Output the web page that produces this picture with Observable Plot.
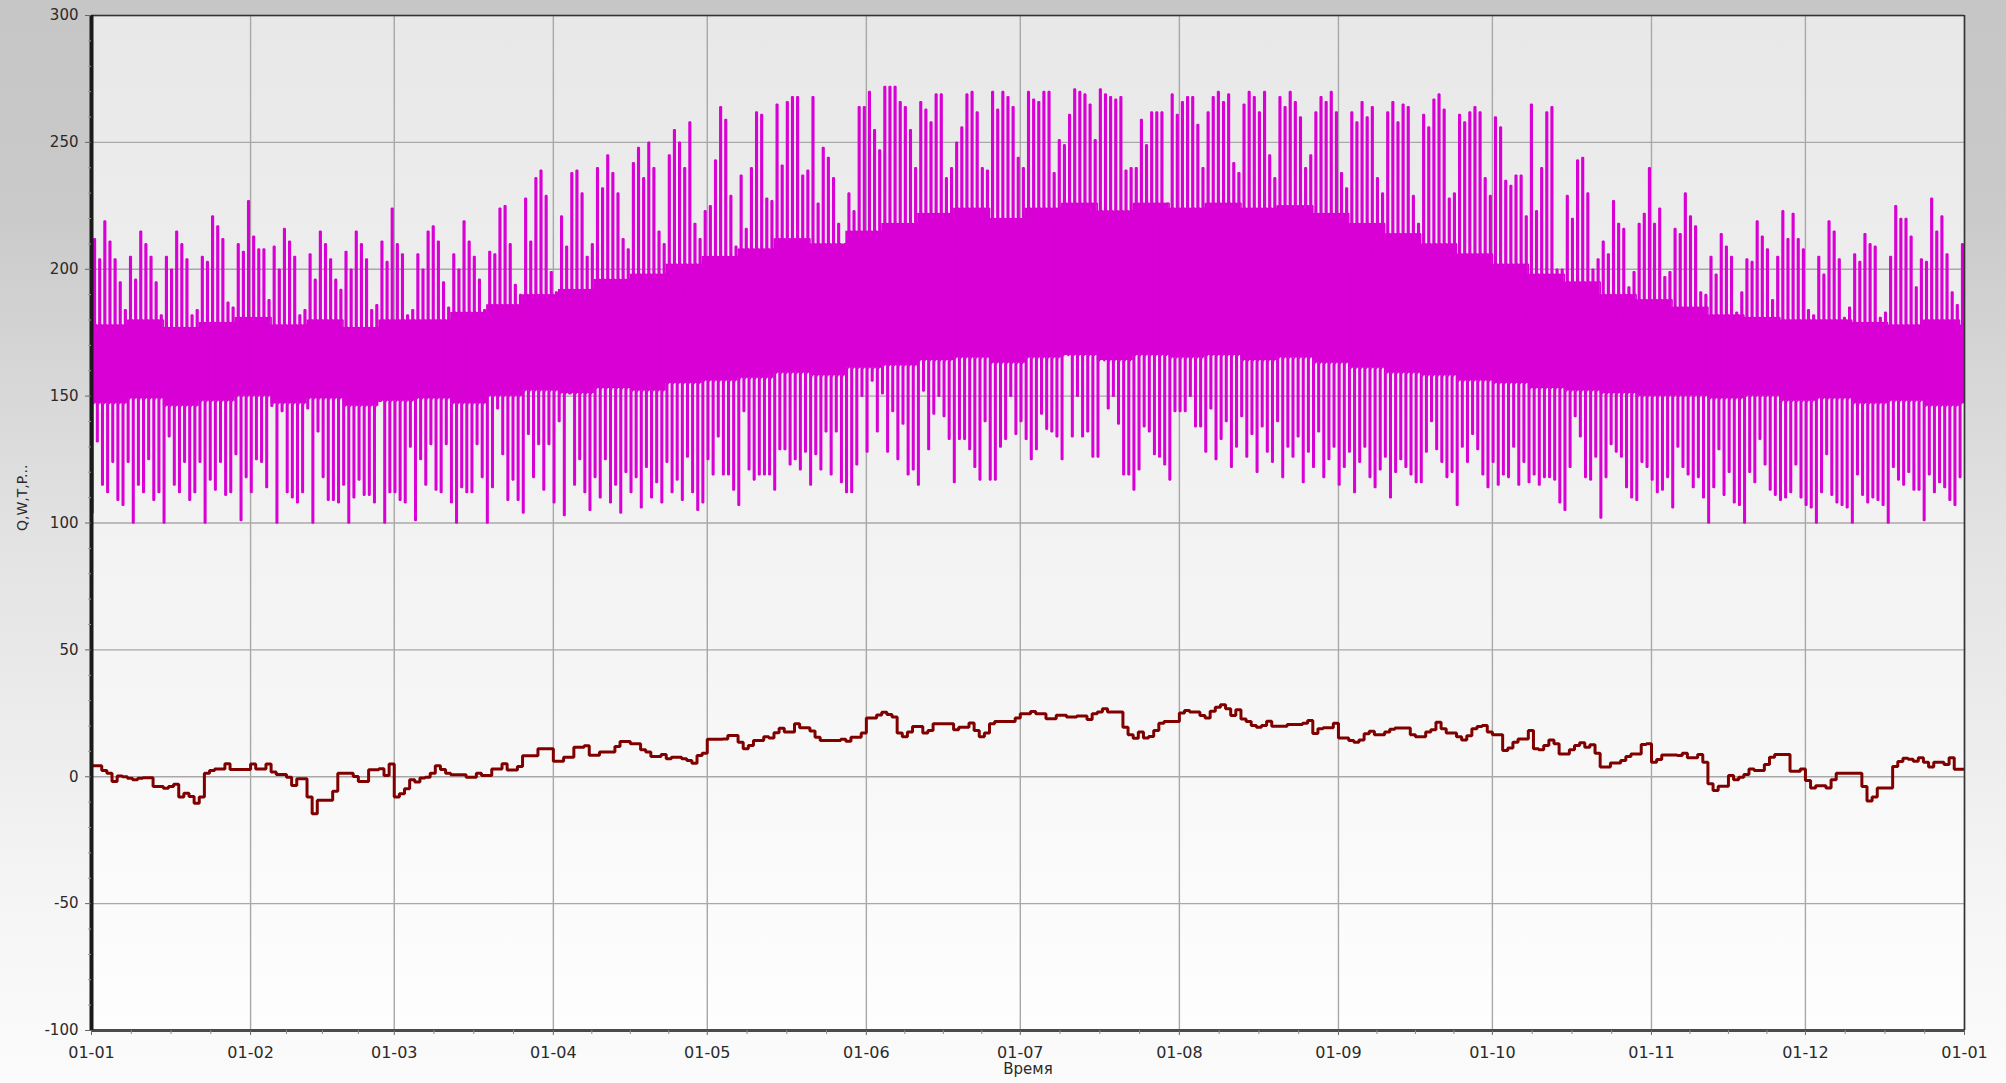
<!DOCTYPE html>
<html><head><meta charset="utf-8">
<script src="https://cdn.jsdelivr.net/npm/d3@7"></script>
<script src="https://cdn.jsdelivr.net/npm/@observablehq/plot@0.6"></script>
<style>
html,body{margin:0;padding:0;background:#fff;}
#chart{width:2006px;height:1083px;overflow:hidden;}
</style></head><body><div id="chart"></div>
<script>
// ---- data ----
const yTicks = [-100, -50, 0, 50, 100, 150, 200, 250, 300];
const xTickLabels = ["01-01","01-02","01-03","01-04","01-05","01-06","01-07","01-08","01-09","01-10","01-11","01-12","01-01"];
const yLabel = "Q,W,T,P...";
const xLabel = "Время";

// weekly typical (dense) band of the load series, one value per 7-day block from 01-01
const coreLoW = [147,149,146,148,150, 147,149,146,148, 149,147,150,152, 151,153,152,155,156,
  157,159,158,161, 162,164,165,163, 165,166,164,166,165, 166,164,165,163, 161,159,158,156,
  155,153,152,151,150, 150,149,150,148, 149,147,148,146,147];
const coreHiW = [178,180,177,179,181, 178,180,177,180, 180,183,186,190, 192,196,198,202,205,
  208,212,210,215, 218,222,224,220, 224,226,223,226,224, 226,224,225,222, 218,214,210,206,
  202,198,195,190,188, 185,182,181,180, 180,179,178,180,178];

// daily peak of the load series
const loadMax = [
212,204,219,211,204,195,184,205,196,215,
210,205,195,182,205,200,215,210,204,182,
184,205,203,221,217,212,187,185,210,207,
227,213,208,208,188,209,200,216,211,205,
182,184,206,196,215,210,204,196,192,207,
200,215,210,204,184,186,211,203,224,210,
206,182,184,206,200,215,217,211,195,185,
206,200,219,211,205,196,184,207,206,224,
225,210,194,190,228,211,236,239,229,199,
191,221,209,238,239,230,205,210,240,232,
245,238,230,212,208,242,248,236,250,240,
215,210,245,255,250,240,258,218,212,223,
225,243,264,259,229,209,237,216,240,262,
261,228,227,265,241,266,268,268,237,239,
268,226,248,244,236,218,207,230,223,264,
264,270,255,247,272,272,272,266,264,255,
240,266,263,258,269,269,236,240,250,256,
269,270,262,240,239,270,263,270,268,264,
244,240,270,267,266,270,270,238,251,249,
261,271,270,269,265,251,271,269,268,267,
268,239,240,240,259,249,262,262,262,226,
269,261,266,268,268,257,240,262,268,270,
266,269,242,238,265,270,268,262,270,245,
236,268,264,270,266,260,240,245,262,268,
266,270,262,238,232,262,258,266,260,264,
236,230,262,266,258,265,264,229,218,261,
256,267,269,263,228,230,261,258,262,264,
262,236,229,260,256,235,233,237,237,221,
265,223,240,262,264,200,200,229,220,243,
244,230,200,204,211,206,227,218,216,193,
199,218,222,240,218,224,197,199,216,214,
230,221,217,191,190,205,198,214,209,205,
183,191,204,203,219,213,208,188,205,223,
212,222,212,208,184,182,205,198,219,215,
204,181,185,206,203,214,210,209,181,183,
205,225,220,220,213,193,204,203,228,215,
221,206,191,186,210];

// daily trough of the load series
const loadMin = [
104,132,115,112,124,109,107,124,100,115,
112,125,109,112,100,134,115,112,124,109,
112,124,100,117,113,124,111,112,127,101,
118,112,125,124,114,146,100,144,112,110,
108,112,145,100,136,118,109,109,108,115,
100,110,117,111,111,108,148,100,112,112,
109,108,130,101,125,115,131,113,112,131,
108,100,114,112,112,131,118,100,114,145,
127,109,117,109,104,135,118,131,113,131,
108,140,103,151,115,125,112,105,118,110,
125,108,115,104,120,112,118,106,122,110,
116,108,124,112,117,109,126,112,105,108,
125,119,134,119,119,113,107,144,121,117,
119,119,119,113,129,129,123,125,121,128,
115,127,121,136,119,136,116,112,112,123,
150,128,156,136,151,128,144,125,139,119,
121,115,152,129,143,150,142,133,116,133,
133,129,122,117,140,117,117,130,133,150,
135,140,133,125,129,143,137,136,134,125,
167,134,150,134,136,126,126,167,145,150,
139,119,119,113,121,138,136,127,126,123,
117,144,144,144,150,138,138,128,145,125,
133,140,122,130,142,126,135,120,138,128,
124,140,118,130,126,134,116,128,122,136,
118,125,130,115,122,128,112,124,130,118,
114,121,126,110,120,125,122,119,116,116,
128,140,129,124,118,120,107,130,124,135,
129,119,114,124,115,119,118,130,115,124,
116,119,115,118,118,117,108,105,122,142,
134,118,117,126,102,118,131,128,126,114,
110,109,124,122,117,112,113,118,106,130,
122,119,114,118,110,100,114,129,111,120,
108,107,100,120,116,133,123,113,111,109,
110,112,123,110,107,106,100,112,127,111,
108,107,106,100,119,111,108,110,109,107,
100,122,117,115,120,113,113,101,119,112,
116,114,109,107,118];

// daily temperature
const tempDaily = [
4.3,4.3,2.5,1.4,-1.9,0.3,0,-0.6,-1.2,-0.6,
-0.4,-0.4,-3.8,-3.8,-4.5,-3.8,-3,-8,-6.5,-7.8,
-10.4,-8,1.4,2.5,3.1,3.1,5.1,2.9,2.9,2.9,
2.9,5,3.1,3.1,5,1.9,0.9,0.9,-0.2,-3.4,
-0.8,-0.8,-8,-14.6,-9.3,-9.3,-9.3,-5.7,1.4,1.4,
1.4,0.1,-1.9,-1.9,2.8,2.8,3.2,0.5,5,-8,
-6.7,-4.7,-1.2,-2.1,-0.5,-0.2,1.4,4.3,2.9,1.4,
0.8,0.8,0.8,-0.2,-0.2,1.4,0.5,0.5,3.1,3.1,
5.1,2.7,2.7,4,8.3,8.3,8.3,11,11,11,
6.1,6.1,7.7,7.7,11.6,11.6,12.2,8.5,8.5,9.8,
9.8,9.8,11.9,13.9,13.9,13,13,10.6,9.8,8,
8,8.8,7.1,7.7,7.7,7.1,6.4,5.3,8.4,9.3,
14.8,14.8,14.8,14.9,16.3,16.3,13.6,11,12.3,14.3,
14.3,15.8,15.3,17.3,19.1,17.6,17.6,20.9,19.3,19.3,
18,15.6,14.3,14.3,14.3,14.3,14.8,14,15.6,15.6,
17.2,23.2,23.2,24.3,25.4,24.5,23.5,17.2,15.8,17.6,
19.8,19.8,17.2,18.2,20.9,20.9,20.9,20.9,18.5,19.5,
19.5,21.2,18.2,15.8,17.2,20.9,21.8,21.8,21.8,21.8,
23.2,24.8,24.8,25.7,24.8,24.8,22.9,22.9,24.2,24.2,
23.5,23.5,23.9,23.9,22.6,24.8,25.5,26.8,25.5,25.5,
25.5,19.5,16.6,15.2,17.6,15.3,15.9,18.2,21.1,21.8,
21.8,21.8,25.1,26.1,25.5,25.5,24.1,23.2,25.8,27.4,
28.4,26.8,24.1,26.4,22.8,21.8,20.2,19.5,20.2,21.9,
19.9,19.9,19.9,20.6,20.6,20.6,21.1,22.2,17,18.9,
19.3,19.3,21.1,15.3,15.3,14.3,13.6,14.5,16.9,17.9,
16.6,16.6,17.6,18.7,19.2,19.2,19.2,16.6,15.8,15.8,
17.6,18.5,21.5,18.9,17.2,17.2,15.8,14.5,16.2,18.9,
19.8,20.2,17.6,16.6,16.6,10.3,11.3,13.6,14.9,14.9,
18.2,11,10.6,12.3,14.5,13,9,9,10.6,12.3,
13.4,11.6,12.6,9.3,3.8,3.8,5.4,5.4,6.4,8,
9,9,12.7,13,5.7,6.8,8.6,8.6,8.6,8.4,
9.3,7.5,7.5,8.8,5.7,-2.8,-5.4,-3.7,-3.7,0.5,
-1.2,-0.2,0.9,3.1,2.5,2.5,4.8,7.7,8.8,8.8,
8.8,2.2,2.2,3.1,-1.5,-4.4,-3.5,-3.5,-4.4,-1.2,
1.4,1.4,1.4,1.4,1.4,-3.8,-9.6,-8,-4.4,-4.4,
-4.4,4,6,7.3,6.9,6.1,7.5,5.7,3.8,5.7,
5.7,4.8,7.5,3,3];

// ---- build ----
const MAG = "#d800d4";
const TEMP = "#800000";
const DAY = 864e5, T0 = Date.UTC(2021, 0, 1);
const at = (d, f = 0) => new Date(T0 + (d + f) * DAY);
const monthStarts = d3.utcMonth.range(new Date(T0), new Date(Date.UTC(2022, 0, 2)));
const labelOf = new Map(monthStarts.map((m, i) => [+m, xTickLabels[i]]));
const minorX = [];
for (let i = 0; i < 12; i++) for (let k = 1; k < 4; k++)
  minorX.push(new Date(+monthStarts[i] + (monthStarts[i + 1] - monthStarts[i]) * k / 4));
const minorY = d3.range(-100, 301, 10).filter(v => v % 50 !== 0);

const core = coreLoW.map((lo, w) => ({t: at(w * 7), lo, hi: coreHiW[w]}));
core.push({t: at(365), lo: coreLoW[coreLoW.length - 1], hi: coreHiW[coreHiW.length - 1]});
const loadPts = [];
loadMax.forEach((mx, d) => {
  const w = Math.floor(d / 7);
  loadPts.push({t: at(d, 0), v: loadMin[d]});
  loadPts.push({t: at(d, 0.28), v: coreLoW[w]});
  loadPts.push({t: at(d, 0.45), v: mx});
  loadPts.push({t: at(d, 0.75), v: coreHiW[w]});
});
const tempPts = tempDaily.map((v, d) => ({t: at(d), v}));
tempPts.push({t: at(tempDaily.length), v: tempDaily[tempDaily.length - 1]});

const x0 = at(0), x1 = at(365);
const chart = Plot.plot({
  width: 2006, height: 1083,
  marginLeft: 91, marginRight: 42, marginTop: 15, marginBottom: 53,
  style: {
    background: "linear-gradient(to bottom, #c6c6c6 0%, #c9c9c9 18%, #e3e3e3 50%, #f6f6f6 85%, #fbfbfb 100%)",
    fontFamily: "DejaVu Sans, sans-serif", fontSize: "15px", color: "#2a2a2a", overflow: "visible"
  },
  x: {type: "utc", domain: [x0, x1], label: null},
  y: {domain: [-100, 300], label: null},
  marks: [
    Plot.frame({fill: "url(#plotBg)", stroke: null}),
    Plot.gridX({ticks: monthStarts, stroke: "#a8a8a8", strokeOpacity: 1, strokeWidth: 1.4}),
    Plot.gridY({ticks: yTicks, stroke: "#a8a8a8", strokeOpacity: 1, strokeWidth: 1.4}),
    Plot.areaY(core, {x: "t", y1: "lo", y2: "hi", curve: "step-after", fill: MAG}),
    Plot.line(loadPts, {x: "t", y: "v", curve: "step-after", stroke: MAG, strokeWidth: 1.6, strokeLinejoin: "miter", strokeLinecap: "butt"}),
    Plot.line(tempPts, {x: "t", y: "v", curve: "step-after", stroke: TEMP, strokeWidth: 3, strokeLinejoin: "miter", strokeLinecap: "butt"}),
    Plot.ruleY([300], {stroke: "#333", strokeWidth: 1.5}),
    Plot.ruleX([x1], {stroke: "#333", strokeWidth: 1.6}),
    Plot.ruleY([-100], {stroke: "#4a4a4a", strokeWidth: 3}),
    Plot.ruleX([x0], {stroke: "#1a1a1a", strokeWidth: 4}),
    Plot.axisY({ticks: yTicks, tickSize: 6, tickPadding: 7, label: null, stroke: "#666", fontSize: 15,
      tickFormat: d => String(d)}),
    Plot.axisY({ticks: minorY, tickSize: 3, tickFormat: () => "", label: null, stroke: "#999"}),
    Plot.axisX({ticks: monthStarts, tickSize: 5, tickPadding: 11, label: null, stroke: "#666", fontSize: 16,
      tickFormat: d => labelOf.get(+d)}),
    Plot.axisX({ticks: minorX, tickSize: 4, tickFormat: () => "", label: null, stroke: "#888"}),
    Plot.text([xLabel], {frameAnchor: "bottom", dy: 43, fontSize: 15, fill: "#2a2a2a"}),
    Plot.text([yLabel], {frameAnchor: "left", dx: -69, dy: 8, rotate: -90, fontSize: 14, fill: "#2a2a2a"})
  ]
});
const ns = "http://www.w3.org/2000/svg";
const defs = document.createElementNS(ns, "defs");
defs.innerHTML = '<linearGradient id="plotBg" x1="0" y1="0" x2="0" y2="1"><stop offset="0" stop-color="#e8e8e8"/><stop offset="0.55" stop-color="#f3f3f3"/><stop offset="1" stop-color="#fefefe"/></linearGradient>';
chart.insertBefore(defs, chart.firstChild);
document.getElementById("chart").appendChild(chart);
</script></body></html>
